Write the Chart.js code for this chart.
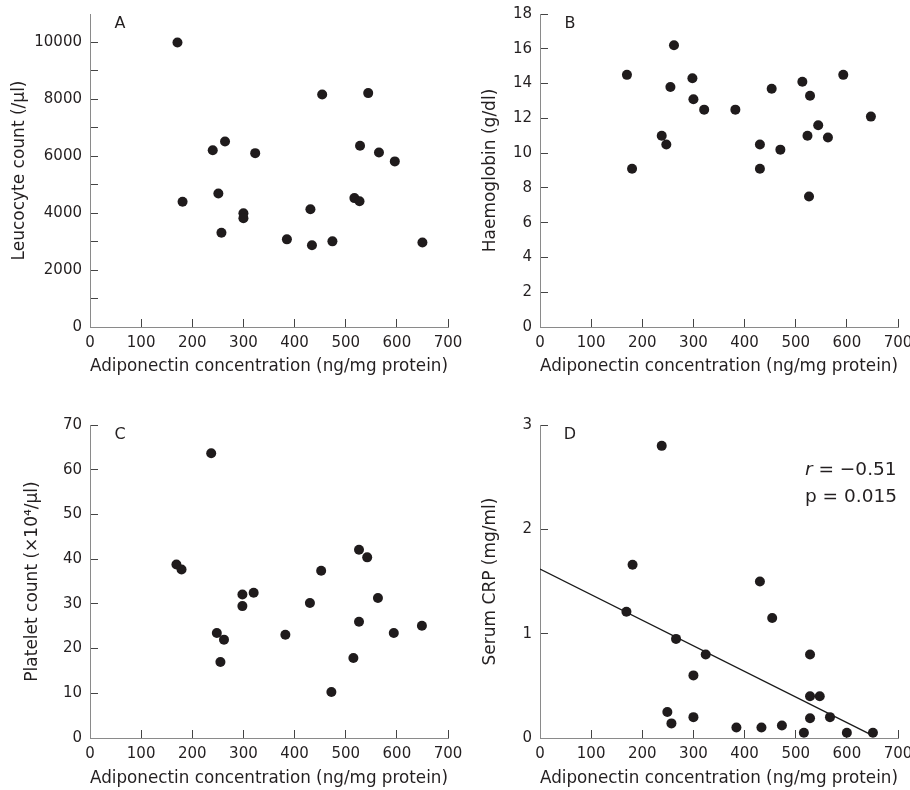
<!DOCTYPE html>
<html>
<head>
<meta charset="utf-8">
<script src="https://cdn.jsdelivr.net/npm/chart.js"></script>
<style>
    html, body { margin: 0; padding: 0; background: #fff; overflow: hidden; }
    #wrap { position: relative; width: 910px; height: 790px; }
    canvas { position: absolute; }
</style>
</head>
<body>
<div id="wrap">
    <canvas id="panelA" width="470" height="395" style="left:0;top:0"></canvas>
    <canvas id="panelB" width="455" height="395" style="left:455px;top:0"></canvas>
    <canvas id="panelC" width="470" height="395" style="left:0;top:395px"></canvas>
    <canvas id="panelD" width="455" height="395" style="left:455px;top:395px"></canvas>
</div>
<script>
// Panel A - leucocyte count
const adipoA = [171, 181, 240, 251, 264, 257, 300, 300, 323, 385, 431, 434, 454, 474, 517, 527, 528, 544, 565, 596, 650];
const leucocyte = [10000, 4400, 6210, 4690, 6520, 3310, 4000, 3820, 6110, 3080, 4140, 2870, 8170, 3010, 4530, 4420, 6370, 8220, 6130, 5820, 2970];

// Panel B - haemoglobin
const adipoB = [170, 180, 238, 247, 255, 262, 298, 300, 321, 382, 430, 430, 453, 470, 513, 523, 528, 526, 544, 563, 593, 647];
const haemoglobin = [14.5, 9.1, 11.0, 10.5, 13.8, 16.2, 14.3, 13.1, 12.5, 12.5, 10.5, 9.1, 13.7, 10.2, 14.1, 11.0, 13.3, 7.5, 11.6, 10.9, 14.5, 12.1];

// Panel C - platelet count
const adipoC = [169, 179, 237, 248, 255, 262, 298, 298, 320, 382, 430, 452, 472, 515, 526, 526, 542, 563, 594, 649];
const platelet = [38.8, 37.7, 63.7, 23.5, 17.0, 22.0, 32.1, 29.5, 32.5, 23.1, 30.2, 37.4, 10.3, 17.9, 42.1, 26.0, 40.4, 31.3, 23.5, 25.1];

// Panel D - serum CRP, with regression line
const adipoD = [169, 181, 238, 249, 257, 266, 300, 300, 324, 384, 430, 433, 454, 473, 516, 528, 528, 528, 547, 567, 600, 651];
const crp = [1.21, 1.66, 2.80, 0.25, 0.14, 0.95, 0.60, 0.20, 0.80, 0.10, 1.50, 0.10, 1.15, 0.12, 0.05, 0.80, 0.40, 0.19, 0.40, 0.20, 0.05, 0.05];
const fitX = [0, 646];
const fitY = [1.62, 0.035];

// Axes: [min, max, step]
const xAxisRange = [0, 700, 100];
const yRangeA = [0, 11000, 1000];
const yRangeB = [0, 18, 2];
const yRangeC = [0, 70, 10];
const yRangeD = [0, 3, 1];

const xTitle = 'Adiponectin concentration (ng/mg protein)';
const corrLines = ['r', ' = \u22120.51', 'p = 0.015'];

const INK = '#231f20';
const FONT = 'DejaVu Sans';
const TITLE_SIZE = 17;
const TITLE_LH = TITLE_SIZE * 1.2;

Chart.defaults.font.family = FONT;
Chart.defaults.color = INK;

function toPoints(xs, ys) {
    return xs.map((x, i) => ({ x: x, y: ys[i] }));
}

// Panel letter and optional correlation text, placed relative to the plot area
const panelText = {
    id: 'panelText',
    afterDraw(chart, args, opts) {
        const { ctx, chartArea } = chart;
        ctx.save();
        ctx.fillStyle = INK;
        ctx.font = '16px ' + FONT;
        ctx.textAlign = 'center';
        ctx.textBaseline = 'middle';
        ctx.fillText(opts.letter, chartArea.left + 30, chartArea.top + 9.5);
        if (opts.corr) {
            const x0 = chartArea.left + 265;
            ctx.textAlign = 'left';
            ctx.font = 'italic 18.5px ' + FONT;
            ctx.fillText(corrLines[0], x0, chartArea.top + 45.5);
            const w = ctx.measureText(corrLines[0]).width;
            ctx.font = '18.5px ' + FONT;
            ctx.fillText(corrLines[1], x0 + w, chartArea.top + 45.5);
            ctx.fillText(corrLines[2], x0, chartArea.top + 72.5);
        }
        ctx.restore();
    }
};

function makePanel(id, box, plot, yTitleX, xTitleY, yTitle, yRange, yLabel, datasets, letter, corr) {
    const padL = 4;
    const padB = 0;
    return new Chart(document.getElementById(id), {
        type: 'scatter',
        data: { datasets: datasets },
        options: {
            responsive: false,
            animation: false,
            events: [],
            layout: {
                padding: {
                    left: padL,
                    top: plot.t - box.top,
                    right: box.left + box.w - plot.r,
                    bottom: padB
                }
            },
            plugins: {
                legend: { display: false },
                tooltip: { enabled: false },
                panelText: { letter: letter, corr: corr }
            },
            scales: {
                x: {
                    type: 'linear',
                    min: xAxisRange[0],
                    max: xAxisRange[1],
                    afterFit(scale) {
                        scale.height = box.top + box.h - padB - plot.b;
                        scale.paddingLeft = 0;
                        scale.paddingRight = 0;
                    },
                    border: { color: '#8a8a8a', width: 1 },
                    grid: { drawOnChartArea: false, tickLength: -8, tickColor: '#444', tickWidth: 1 },
                    ticks: {
                        stepSize: xAxisRange[2],
                        autoSkip: false,
                        maxRotation: 0,
                        padding: 15,
                        font: { size: 15 }
                    },
                    title: {
                        display: true,
                        text: xTitle,
                        font: { size: TITLE_SIZE },
                        padding: { top: 0, bottom: box.top + box.h - padB - TITLE_LH / 2 - xTitleY }
                    }
                },
                y: {
                    type: 'linear',
                    min: yRange[0],
                    max: yRange[1],
                    afterFit(scale) {
                        scale.width = plot.l - box.left - padL;
                        scale.paddingTop = 0;
                        scale.paddingBottom = 0;
                    },
                    border: { color: '#8a8a8a', width: 1 },
                    grid: { drawOnChartArea: false, tickLength: -8, tickColor: '#444', tickWidth: 1 },
                    ticks: {
                        stepSize: yRange[2],
                        autoSkip: false,
                        padding: 16,
                        font: { size: 15 },
                        callback: yLabel
                    },
                    title: {
                        display: true,
                        text: yTitle,
                        font: { size: TITLE_SIZE },
                        padding: { top: yTitleX - box.left - padL - TITLE_LH / 2, bottom: 0 }
                    }
                }
            }
        },
        plugins: [panelText]
    });
}

function dots(xs, ys) {
    return {
        data: toPoints(xs, ys),
        pointRadius: 5,
        pointBackgroundColor: '#1f1b1c',
        pointBorderWidth: 0,
        showLine: false
    };
}

const plainLabel = v => String(v);

makePanel('panelA',
    { left: 0, top: 0, w: 470, h: 395 },
    { l: 90, r: 448, t: 14, b: 327 },
    20, 367, 'Leucocyte count (/\u00b5l)', yRangeA,
    v => (v > 10000 ? null : (v % 2000 === 0 ? String(v) : '')),
    [dots(adipoA, leucocyte)], 'A', false);

makePanel('panelB',
    { left: 455, top: 0, w: 455, h: 395 },
    { l: 540, r: 898, t: 14, b: 327 },
    491, 367, 'Haemoglobin (g/dl)', yRangeB, plainLabel,
    [dots(adipoB, haemoglobin)], 'B', false);

makePanel('panelC',
    { left: 0, top: 395, w: 470, h: 395 },
    { l: 90, r: 448, t: 425, b: 738 },
    33, 779, 'Platelet count (\u00d710\u2074/\u00b5l)', yRangeC, plainLabel,
    [dots(adipoC, platelet)], 'C', false);

makePanel('panelD',
    { left: 455, top: 395, w: 455, h: 395 },
    { l: 540, r: 898, t: 425, b: 738 },
    491, 779, 'Serum CRP (mg/ml)', yRangeD, plainLabel,
    [
        dots(adipoD, crp),
        {
            type: 'line',
            data: toPoints(fitX, fitY),
            borderColor: '#1a1a1a',
            borderWidth: 1.3,
            pointRadius: 0,
            fill: false
        }
    ], 'D', true);
</script>
</body>
</html>
